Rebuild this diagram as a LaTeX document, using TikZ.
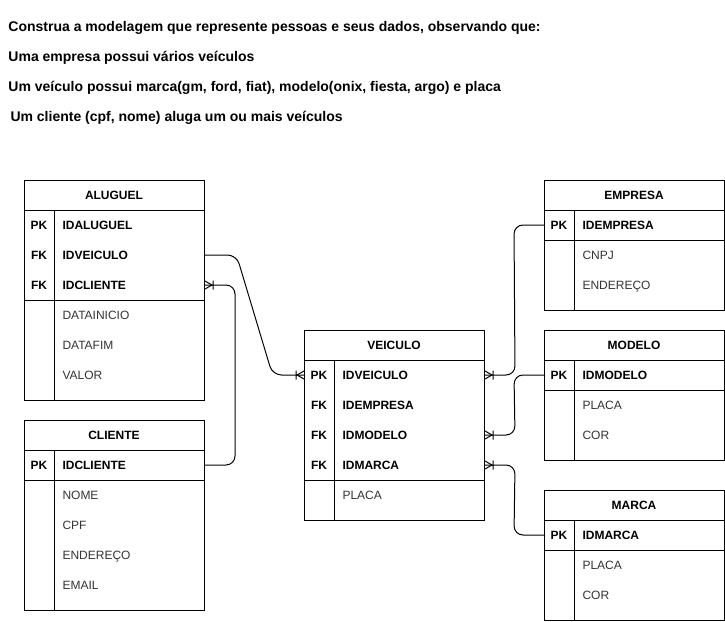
\documentclass[tikz,border=0pt]{standalone}
\usepackage{fontspec}
\setmainfont{Liberation Sans}
\definecolor{txt}{HTML}{333333}
\begin{document}
\begin{tikzpicture}[x=1pt,y=-1pt,line width=1pt,
  tbl/.style={draw, minimum width=180pt, inner sep=0pt, anchor=north west},
  fld/.style={anchor=west, inner sep=0pt, text height=8.6pt, text depth=0pt, text=txt, font=\fontsize{12}{14}\selectfont},
  key/.style={anchor=west, inner sep=0pt, text height=8.6pt, text depth=0pt, font=\fontsize{12}{14}\selectfont\bfseries},
  kc/.style={key, anchor=center},
  hdr/.style={anchor=center, inner sep=0pt, text height=8.6pt, text depth=0pt, font=\fontsize{12}{14}\selectfont\bfseries},
  ttl/.style={anchor=west, inner sep=0pt, text height=10pt, text depth=0pt, font=\fontsize{14}{16}\selectfont\bfseries},
  rel/.style={rounded corners=9pt},
  crow/.pic={\draw[line width=1pt] (-8,-4.5)--(-8,4.5) (-7,0)--(0,-4) (-7,0)--(0,4);}]
\useasboundingbox (0,0) rectangle (725,621);

% title
\node[ttl] (t1) at (8,26) {Construa a modelagem que represente pessoas e seus dados, observando que:};
\node[ttl] (t2) at (8,56) {Uma empresa possui vários veículos};
\node[ttl] (t3) at (8,86) {Um veículo possui marca(gm, ford, fiat), modelo(onix, fiesta, argo) e placa};
\node[ttl] (t4) at (10,116) {Um cliente (cpf, nome) aluga um ou mais veículos};

% ALUGUEL
\node[tbl, minimum height=220pt] (aluguel) at (24,180) {};
\draw (24,210) -- (204,210) (24,300) -- (204,300) (54,210) -- (54,400);
\node[hdr] (al-h) at (114,195) {ALUGUEL};
\node[kc] (al-k1) at (39,225) {PK};
\node[kc] (al-k2) at (39,255) {FK};
\node[kc] (al-k3) at (39,285) {FK};
\node[key] (al-ida) at (62,225) {IDALUGUEL};
\node[key] (al-idv) at (62,255) {IDVEICULO};
\node[key] (al-idc) at (62,285) {IDCLIENTE};
\node[fld] (al-f1) at (62,315) {DATAINICIO};
\node[fld] (al-f2) at (62,345) {DATAFIM};
\node[fld] (al-f3) at (62,375) {VALOR};

% CLIENTE
\node[tbl, minimum height=190pt] (cliente) at (24,420) {};
\draw (24,450) -- (204,450) (24,480) -- (204,480) (54,450) -- (54,610);
\node[hdr] (cl-h) at (114,435) {CLIENTE};
\node[kc] (cl-k1) at (39,465) {PK};
\node[key] (cl-idc) at (62,465) {IDCLIENTE};
\node[fld] (cl-f1) at (62,495) {NOME};
\node[fld] (cl-f2) at (62,525) {CPF};
\node[fld] (cl-f3) at (62,555) {ENDEREÇO};
\node[fld] (cl-f4) at (62,585) {EMAIL};

% VEICULO
\node[tbl, minimum height=190pt] (veiculo) at (304,330) {};
\draw (304,360) -- (484,360) (304,480) -- (484,480) (334,360) -- (334,520);
\node[hdr] (ve-h) at (394,345) {VEICULO};
\node[kc] (ve-k1) at (319,375) {PK};
\node[kc] (ve-k2) at (319,405) {FK};
\node[kc] (ve-k3) at (319,435) {FK};
\node[kc] (ve-k4) at (319,465) {FK};
\node[key] (ve-idv) at (342,375) {IDVEICULO};
\node[key] (ve-ide) at (342,405) {IDEMPRESA};
\node[key] (ve-idmo) at (342,435) {IDMODELO};
\node[key] (ve-idma) at (342,465) {IDMARCA};
\node[fld] (ve-f1) at (342,495) {PLACA};

% EMPRESA
\node[tbl, minimum height=130pt] (empresa) at (544,180) {};
\draw (544,210) -- (724,210) (544,240) -- (724,240) (574,210) -- (574,310);
\node[hdr] (em-h) at (634,195) {EMPRESA};
\node[kc] (em-k1) at (559,225) {PK};
\node[key] (em-ide) at (582,225) {IDEMPRESA};
\node[fld] (em-f1) at (582,255) {CNPJ};
\node[fld] (em-f2) at (582,285) {ENDEREÇO};

% MODELO
\node[tbl, minimum height=130pt] (modelo) at (544,330) {};
\draw (544,360) -- (724,360) (544,390) -- (724,390) (574,360) -- (574,460);
\node[hdr] (mo-h) at (634,345) {MODELO};
\node[kc] (mo-k1) at (559,375) {PK};
\node[key] (mo-idm) at (582,375) {IDMODELO};
\node[fld] (mo-f1) at (582,405) {PLACA};
\node[fld] (mo-f2) at (582,435) {COR};

% MARCA
\node[tbl, minimum height=130pt] (marca) at (544,490) {};
\draw (544,520) -- (724,520) (544,550) -- (724,550) (574,520) -- (574,620);
\node[hdr] (ma-h) at (634,505) {MARCA};
\node[kc] (ma-k1) at (559,535) {PK};
\node[key] (ma-idm) at (582,535) {IDMARCA};
\node[fld] (ma-f1) at (582,565) {PLACA};
\node[fld] (ma-f2) at (582,595) {COR};

% connectors
\draw[rel] (aluguel.east |- al-idv) -- ([xshift=31.5pt]aluguel.east |- al-idv)
  -- ([xshift=-31.5pt]veiculo.west |- ve-idv) -- (veiculo.west |- ve-idv);
\pic at (veiculo.west |- ve-idv) {crow};

\draw[rel] (aluguel.east |- al-idc) -- ([xshift=30pt]aluguel.east |- al-idc)
  -- ([xshift=30pt]cliente.east |- cl-idc) -- (cliente.east |- cl-idc);
\pic[xscale=-1] at (aluguel.east |- al-idc) {crow};

\draw[rel] (veiculo.east |- ve-idv) -- ([xshift=30pt]veiculo.east |- ve-idv)
  -- ([xshift=-30pt]empresa.west |- em-ide) -- (empresa.west |- em-ide);
\pic[xscale=-1] at (veiculo.east |- ve-idv) {crow};

\draw[rel] (veiculo.east |- ve-idmo) -- ([xshift=30pt]veiculo.east |- ve-idmo)
  -- ([xshift=-30pt]modelo.west |- mo-idm) -- (modelo.west |- mo-idm);
\pic[xscale=-1] at (veiculo.east |- ve-idmo) {crow};

\draw[rel] (veiculo.east |- ve-idma) -- ([xshift=30pt]veiculo.east |- ve-idma)
  -- ([xshift=-30pt]marca.west |- ma-idm) -- (marca.west |- ma-idm);
\pic[xscale=-1] at (veiculo.east |- ve-idma) {crow};
\end{tikzpicture}
\end{document}
